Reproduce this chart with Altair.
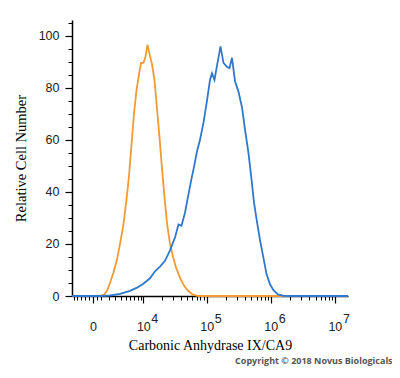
import altair as alt
import numpy as np
import pandas as pd

# x positions are read in display units of the logicle-style axis (decades: 10^4 -> 4, 10^5 -> 5 ...)
orange_x = [2.899, 3.336, 3.398, 3.445, 3.492, 3.546, 3.601, 3.648, 3.702, 3.749, 3.788, 3.827,
            3.866, 3.905, 3.944, 3.975, 4.014, 4.046, 4.077, 4.108, 4.147, 4.186, 4.225, 4.264,
            4.303, 4.342, 4.381, 4.428, 4.475, 4.521, 4.584, 4.646, 4.709, 4.787, 4.865, 7.205]
orange_y = [0, 0, 0.5, 2, 5, 9, 14, 20, 27.5, 37, 46, 58,
            70, 79, 85, 89.5, 89.5, 92, 96.5, 93, 89, 83, 72, 61,
            49, 38, 28, 20, 15, 11, 7, 4, 2, 0.5, 0, 0]

blue_x = [2.899, 3.336, 3.492, 3.648, 3.804, 3.913, 4.007, 4.116, 4.194, 4.272, 4.350, 4.428,
          4.506, 4.560, 4.607, 4.662, 4.716, 4.763, 4.802, 4.849, 4.896, 4.950, 5.005, 5.052,
          5.083, 5.122, 5.161, 5.216, 5.262, 5.317, 5.356, 5.395, 5.442, 5.496, 5.551, 5.598,
          5.652, 5.699, 5.738, 5.785, 5.832, 5.879, 5.933, 5.988, 6.042, 6.113, 6.191, 6.300, 7.205]
blue_y = [0, 0, 0.2, 0.8, 2.0, 3.2, 4.6, 6.8, 9.5, 11.3, 13.5, 17.5,
          22.5, 27.5, 27.0, 32, 39, 45, 49.5, 55.5, 60, 66.5, 75, 83,
          85.5, 83, 88.5, 95.9, 89.5, 88, 87.5, 91.5, 82.5, 78.5, 72.5, 64,
          55, 45, 36, 28.5, 21.5, 15.5, 8.5, 4.5, 2.2, 0.6, 0.1, 0, 0]

x_domain = [2.899, 7.205]
y_domain = [0, 106]

major_values = [0, 1e4, 1e5, 1e6, 1e7]
y_major = [0, 20, 40, 60, 80, 100]
y_minor = [5, 10, 15, 25, 30, 35, 45, 50, 55, 65, 70, 75, 85, 90, 95, 105]

C = 3374.0
def disp(v):
    return float(np.log10(C / 2) + np.arcsinh(v / C) / np.log(10))

major_x = [round(disp(v), 4) for v in major_values]
exp_x = major_x[1:]
minor_vals = [-500 * k for k in range(1, 8)] + [500, 1000] + [k * 1000 for k in range(2, 10)]
for d in (4, 5, 6):
    minor_vals += [k * 10 ** d for k in range(2, 10)]
minor_x = [round(disp(v), 4) for v in minor_vals if x_domain[0] <= disp(v) <= x_domain[1]]

df_o = pd.DataFrame({"x": orange_x, "y": orange_y})
df_b = pd.DataFrame({"x": blue_x, "y": blue_y})

xs = alt.Scale(domain=x_domain, nice=False, zero=False)
ys = alt.Scale(domain=y_domain, nice=False, zero=False)

LAB = dict(labelFont="Liberation Sans", labelFontSize=12.5, labelColor="#222",
           labelOverlap=False, labelFlush=False)

x_major_axis = alt.Axis(values=major_x, labelExpr="datum.value < 3.6 ? '0' : '10'",
                        orient="bottom", grid=False,
                        tickSize=7, tickColor="black", tickWidth=1.2,
                        domain=True, domainColor="black", domainWidth=1.5,
                        labelPadding=17, **LAB,
                        title="Carbonic Anhydrase IX/CA9", titleFont="Liberation Serif",
                        titleFontSize=14, titleFontWeight="normal", titleColor="black",
                        titlePadding=6)
x_exp_axis = alt.Axis(values=exp_x, labelExpr="format(round(datum.value), 'd')",
                      orient="bottom", grid=False, domain=False,
                      tickSize=7, tickOpacity=0, labelPadding=9, labelOffset=11, **LAB,
                      title=None)
x_minor_axis = alt.Axis(values=minor_x, labels=False, orient="bottom", grid=False, domain=False,
                        tickSize=4, tickColor="black", tickWidth=1, title=None)
y_major_axis = alt.Axis(values=y_major, orient="left", grid=False,
                        tickSize=7, tickColor="black", tickWidth=1.2,
                        domain=True, domainColor="black", domainWidth=1.5,
                        labelPadding=6, **LAB,
                        title="Relative Cell Number", titleFont="Liberation Serif",
                        titleFontSize=14.5, titleFontWeight="normal", titleColor="black",
                        titlePadding=10)
y_minor_axis = alt.Axis(values=y_minor, labels=False, orient="left", grid=False, domain=False,
                        tickSize=4, tickColor="black", tickWidth=1, title=None)

orange = alt.Chart(df_o).mark_line(color="#F39A32", strokeWidth=1.8).encode(
    x=alt.X("x:Q", scale=xs, axis=x_major_axis),
    y=alt.Y("y:Q", scale=ys, axis=y_major_axis),
)
blue = alt.Chart(df_b).mark_line(color="#2F78CC", strokeWidth=1.8).encode(
    x=alt.X("x:Q", scale=xs, axis=x_minor_axis),
    y=alt.Y("y:Q", scale=ys, axis=y_minor_axis),
)
exponents = alt.Chart(df_o).mark_line(opacity=0).encode(
    x=alt.X("x:Q", scale=xs, axis=x_exp_axis),
    y=alt.Y("y:Q", scale=ys, axis=None),
)

chart = alt.layer(orange, blue, exponents).resolve_scale(x="shared", y="shared").resolve_axis(
    x="independent", y="independent"
).properties(
    width=276, height=276,
    autosize=alt.AutoSizeParams(type="none"),
    padding={"left": 64, "top": 12, "right": 44, "bottom": 74},
    title=alt.TitleParams("Copyright \u00a9 2018 Novus Biologicals", orient="bottom", anchor="end",
                          font="Open Sans", fontSize=9, fontWeight="bold", color="#555",
                          dx=41, offset=4),
).configure_view(stroke=None)

chart.save("out.html", embed_options={"renderer": "svg", "actions": False})
